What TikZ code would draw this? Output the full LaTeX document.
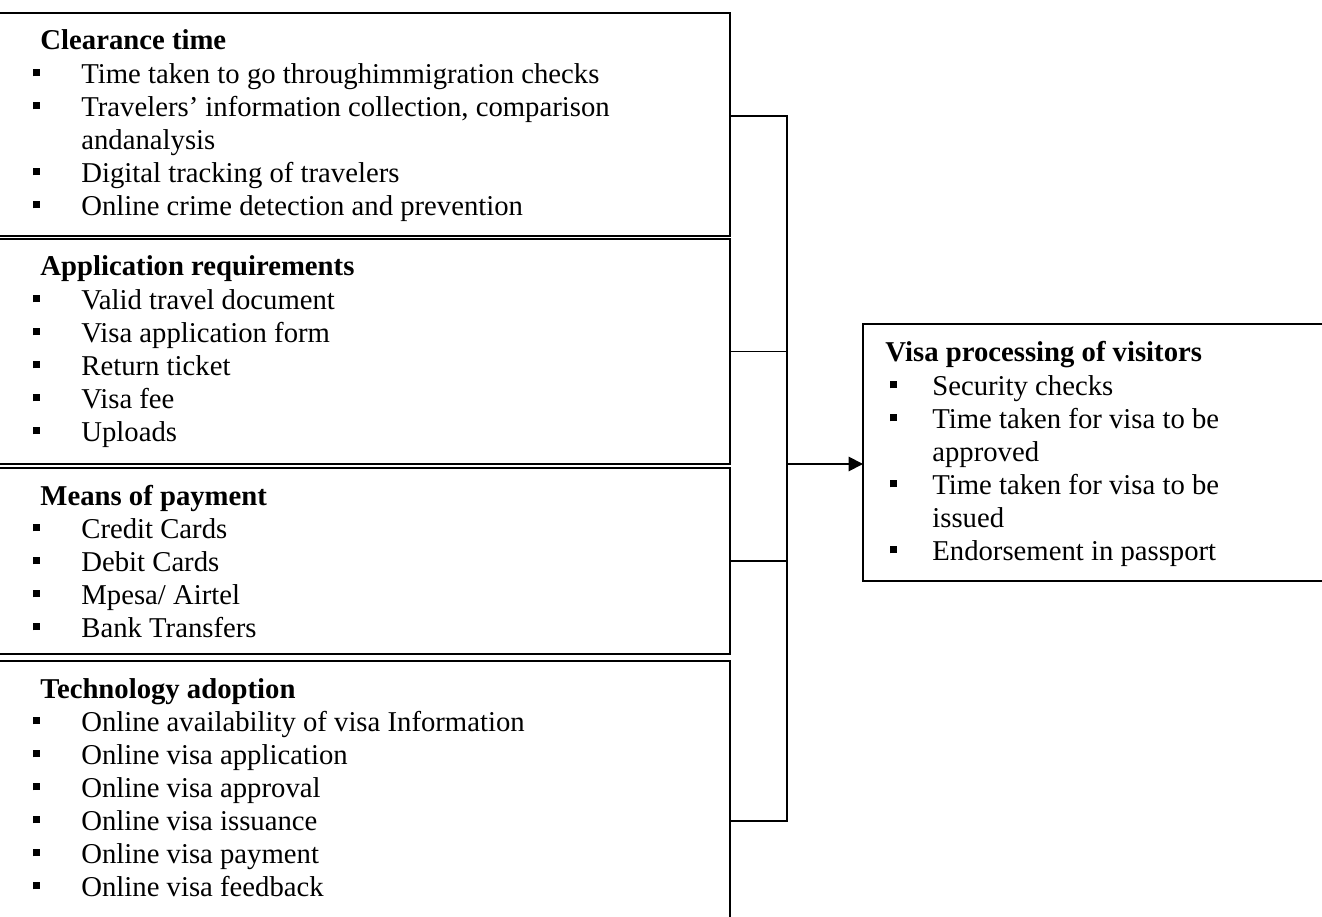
\documentclass[tikz,border=0pt]{standalone}
\usepackage{fontspec}
\setmainfont{Liberation Serif}
\usetikzlibrary{arrows.meta}
\newlength\bulx
\newlength\txtx
\newcommand{\bul}{\rule[2.8pt]{2.9pt}{2.9pt}}
\newcommand{\ent}[1]{\par\noindent\hangindent=\txtx\hangafter=1\hspace*{\bulx}\makebox[\dimexpr\txtx-\bulx\relax][l]{\bul}#1}
\newcommand{\head}[1]{\noindent\textbf{#1}}
\newcommand{\blist}[3]{\parbox[t]{330pt}{\setlength\bulx{#1}\setlength\txtx{#2}\fontsize{12pt}{13.8pt}\selectfont\raggedright #3}}
\tikzset{
  box/.style={draw, line width=0.55pt, rectangle, anchor=north west, inner sep=0pt, outer sep=0pt},
  listtext/.style={anchor=base west, inner sep=0pt},
  link/.style={line width=0.8pt}
}

\begin{document}
\begin{tikzpicture}[x=0.418pt,y=-0.418pt]
\useasboundingbox (0,0) rectangle (1322,917);
\clip (0,0) rectangle (1322,917);
% factor boxes
\node[box, minimum width=313.5pt, minimum height=93.2pt] (clear) at (-20,13) {};
\node[box, minimum width=313.5pt, minimum height=94.05pt] (appl) at (-20,239) {};
\node[box, minimum width=313.5pt, minimum height=77.75pt] (pay) at (-20,468) {};
\node[box, minimum width=313.5pt, minimum height=133.8pt] (tech) at (-20,661) {};
\node[box, minimum width=209pt, minimum height=107.4pt] (visa) at (863,324) {};
% texts
\node[listtext] (cleartxt) at (40,50) {\blist{-3.3pt}{17.1pt}{\head{Clearance time}
\ent{Time taken to go throughimmigration checks}
\ent{Travelers’ information collection, comparison\newline andanalysis}
\ent{Digital tracking of travelers}
\ent{Online crime detection and prevention}}};
\node[listtext] (appltxt) at (40,276) {\blist{-3.3pt}{17.1pt}{\head{Application requirements}
\ent{Valid travel document}
\ent{Visa application form}
\ent{Return ticket}
\ent{Visa fee}
\ent{Uploads}}};
\node[listtext] (paytxt) at (40,505) {\blist{-3.3pt}{17.1pt}{\head{Means of payment}
\ent{Credit Cards}
\ent{Debit Cards}
\ent{Mpesa/ Airtel}
\ent{Bank Transfers}}};
\node[listtext] (techtxt) at (40,698) {\blist{-3.3pt}{17.1pt}{\head{Technology adoption}
\ent{Online availability of visa Information}
\ent{Online visa application}
\ent{Online visa approval}
\ent{Online visa issuance}
\ent{Online visa payment}
\ent{Online visa feedback}}};
\node[listtext] (visatxt) at (885,362) {\blist{2pt}{19.6pt}{\head{Visa processing of visitors}
\ent{Security checks}
\ent{Time taken for visa to be\newline approved}
\ent{Time taken for visa to be\newline issued}
\ent{Endorsement in passport}}};
% connectors
\coordinate (hub) at (787,464);
\draw[link] ([yshift=3.5pt]clear.east) -| (hub);
\draw[link] (tech.east) -| (hub);
\draw[link] (appl.east) -- (appl.east -| hub);
\draw[link] (pay.east) -- (pay.east -| hub);
\draw[link,-{Triangle[length=6pt,width=6pt]}] (hub) -- (hub -| visa.west);
\end{tikzpicture}
\end{document}
